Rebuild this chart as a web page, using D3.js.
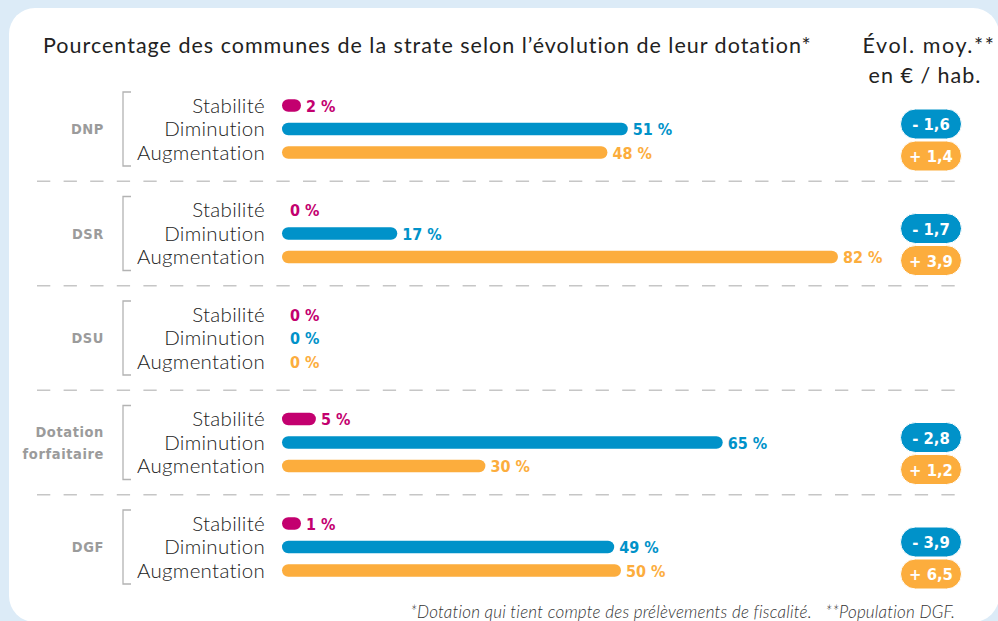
<!DOCTYPE html>
<html><head><meta charset="utf-8">
<script src="https://cdn.jsdelivr.net/npm/d3@7"></script>
<style>
html,body{margin:0;padding:0;background:#dcebf7;}
svg{display:block;}
</style></head>
<body>
<svg id="chart" width="998" height="621"></svg>
<script>
const groups = ["DNP", "DSR", "DSU", "Dotation forfaitaire", "DGF"];
const groupLines = [["DNP"], ["DSR"], ["DSU"], ["Dotation", "forfaitaire"], ["DGF"]];
const rowLabels = ["Stabilité", "Diminution", "Augmentation"];
const stabilite = [2, 0, 0, 5, 1];
const diminution = [51, 17, 0, 65, 49];
const augmentation = [48, 82, 0, 30, 50];
const evolDiminution = [-1.6, -1.7, null, -2.8, -3.9];
const evolAugmentation = [1.4, 3.9, null, 1.2, 6.5];
const title = "Pourcentage des communes de la strate selon l’évolution de leur dotation*";
const header1 = "Évol. moy.**";
const header2 = "en € / hab.";
const footnote = "*Dotation qui tient compte des prélèvements de fiscalité.   **Population DGF.";

const colors = {"Stabilité": "#c3006f", "Diminution": "#0092c9", "Augmentation": "#fcad3d"};
const seriesByRow = {"Stabilité": stabilite, "Diminution": diminution, "Augmentation": augmentation};

const svg = d3.select("#chart");

// card
svg.append("rect").attr("x", 9).attr("y", 8).attr("width", 990).attr("height", 614)
  .attr("rx", 26).attr("fill", "#ffffff");

const lightFont = "Lato, 'Open Sans', sans-serif";
const boldFont = "'DejaVu Sans Condensed', 'DejaVu Sans', sans-serif";

// scales
const x = d3.scaleLinear().domain([0, 100]).range([282, 960]);
const yGroup = d3.scalePoint().domain(groups).range([129, 547]);
const yRow = d3.scalePoint().domain(rowLabels).range([-23.5, 23.5]);
const barH = 12.5;
const minW = 19;

// title
svg.append("text").attr("x", 43).attr("y", 53).text(title)
  .attr("font-family", lightFont).attr("font-weight", 400).attr("font-size", 21.5)
  .attr("fill", "#222").attr("letter-spacing", 1.0);
svg.append("text").attr("x", 929).attr("y", 53).attr("text-anchor", "middle").text(header1)
  .attr("font-family", lightFont).attr("font-weight", 400).attr("font-size", 21.5)
  .attr("fill", "#222").attr("letter-spacing", 1.6);
svg.append("text").attr("x", 925).attr("y", 83).attr("text-anchor", "middle").text(header2)
  .attr("font-family", lightFont).attr("font-weight", 400).attr("font-size", 21.5)
  .attr("fill", "#222").attr("letter-spacing", 1.0);

// separators
const seps = groups.slice(1).map((g, i) => (yGroup(groups[i]) + yGroup(g)) / 2);
svg.selectAll("line.sep").data(seps).join("line").attr("class", "sep")
  .attr("x1", 37).attr("x2", 957).attr("y1", d => d).attr("y2", d => d)
  .attr("stroke", "#c6c6c6").attr("stroke-width", 1.5).attr("stroke-dasharray", "13.3,13.3");

const g = svg.selectAll("g.group").data(groups).join("g").attr("class", "group")
  .attr("transform", d => `translate(0,${yGroup(d)})`);

// group labels
g.each(function(d, i) {
  const lines = groupLines[i];
  const t = d3.select(this).append("text").attr("text-anchor", "end")
    .attr("font-family", boldFont).attr("font-weight", 700).attr("font-size", 14.5)
    .attr("fill", "#9b9b9b").attr("letter-spacing", 0.6);
  lines.forEach((l, j) => {
    t.append("tspan").attr("x", 104)
      .attr("y", (j - (lines.length - 1) / 2) * 22 + 5).text(l);
  });
});

// brackets
g.append("path")
  .attr("d", `M131,${-37}H123V${37}H131`)
  .attr("fill", "none").attr("stroke", "#b3b3b3").attr("stroke-width", 1.3);

// row labels
g.selectAll("text.row").data(rowLabels).join("text").attr("class", "row")
  .attr("x", 265).attr("y", r => yRow(r) + 7).attr("text-anchor", "end")
  .attr("font-family", lightFont).attr("font-weight", 300).attr("font-size", 20.5)
  .attr("fill", "#222").attr("letter-spacing", 0.3).text(r => r);

// bars
const barWidth = v => v > 0 ? Math.max(x(v) - x(0), minW) : 0;
g.each(function(gname, gi) {
  const sel = d3.select(this);
  const rows = rowLabels.map(r => ({row: r, value: seriesByRow[r][gi]}));
  sel.selectAll("rect.bar").data(rows.filter(d => d.value > 0)).join("rect").attr("class", "bar")
    .attr("x", x(0)).attr("y", d => yRow(d.row) - barH / 2)
    .attr("width", d => barWidth(d.value)).attr("height", barH)
    .attr("rx", barH / 2).attr("fill", d => colors[d.row]);
  sel.selectAll("text.val").data(rows).join("text").attr("class", "val")
    .attr("x", d => d.value > 0 ? x(0) + barWidth(d.value) + 5 : x(0) + 8)
    .attr("y", d => yRow(d.row) + 6)
    .attr("font-family", boldFont).attr("font-weight", 700).attr("font-size", 16)
    .attr("fill", d => colors[d.row]).text(d => d.value + " %");
});

// evolution pills
const fmt = v => (v < 0 ? "- " : "+ ") + Math.abs(v).toFixed(1).replace(".", ",");
g.each(function(gname, gi) {
  const sel = d3.select(this);
  const pills = [
    {v: evolDiminution[gi], c: colors["Diminution"], dy: -5},
    {v: evolAugmentation[gi], c: colors["Augmentation"], dy: 27}
  ].filter(p => p.v !== null);
  const pg = sel.selectAll("g.pill").data(pills).join("g").attr("class", "pill")
    .attr("transform", p => `translate(931,${p.dy})`);
  pg.append("rect").attr("x", -30.5).attr("y", -15).attr("width", 61).attr("height", 30)
    .attr("rx", 15).attr("fill", p => p.c).attr("stroke", "#fff").attr("stroke-width", 1);
  pg.append("text").attr("text-anchor", "middle").attr("y", 6)
    .attr("font-family", boldFont).attr("font-weight", 700).attr("font-size", 16.5)
    .attr("fill", "#fff").text(p => fmt(p.v));
});

// footnote
svg.append("text").attr("x", 955).attr("y", 618).attr("text-anchor", "end").text(footnote)
  .attr("font-family", lightFont).attr("font-weight", 300).attr("font-style", "italic")
  .attr("font-size", 17).attr("fill", "#333").attr("letter-spacing", 0.2)
  .style("white-space", "pre");
</script>
</body></html>
